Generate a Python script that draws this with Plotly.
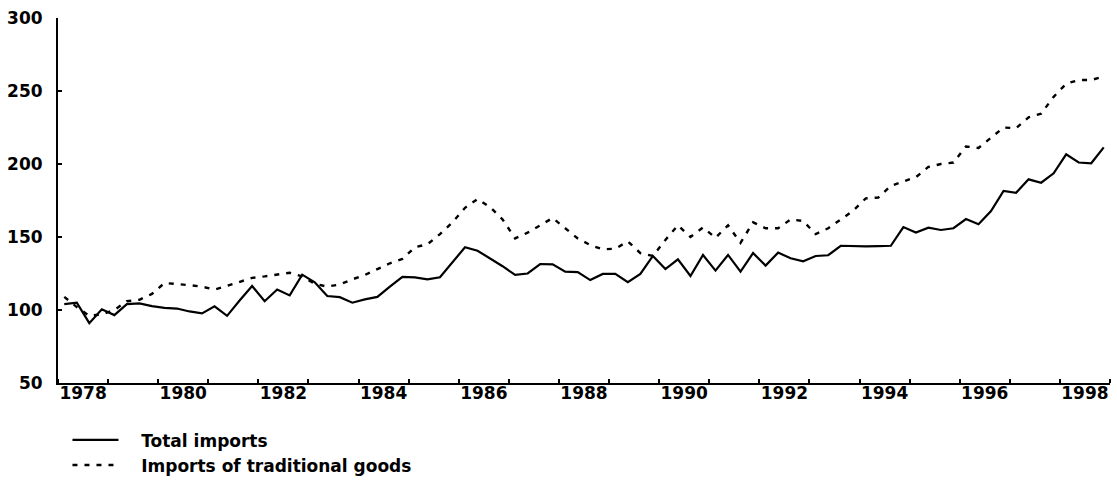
import plotly.graph_objects as go

years = list(range(1978, 1999))
quarters = [1, 2, 3, 4]

total_imports = [
    104, 105, 91, 100.5, 96.5, 104, 104.5, 102.7, 101.5, 101, 99, 97.7,
    102.5, 96, 106.5, 116.4, 106, 114, 110, 124.2, 119, 109.6, 108.8, 105,
    107.3, 109, 116, 122.7, 122.4, 121, 122.4, 132.7, 143, 140.6, 135.4, 130,
    124, 125, 131.5, 131.3, 126.3, 126, 120.5, 124.7, 124.7, 119, 124.7, 137,
    128, 134.7, 123.3, 137.7, 127, 137.7, 126.3, 139, 130.4, 139.3, 135.4, 133.4,
    137, 137.5, 144, 143.6, 143.6, 143.8, 144, 156.8, 153, 156.4, 154.8, 156,
    162.3, 158.7, 167.8, 181.5, 180.3, 189.5, 187.2, 193.6, 206.6, 201, 200.5, 211.4,
]

traditional_goods = [
    109, 102, 96, 97, 100, 106, 107, 111, 118.5, 118, 117, 116,
    114, 116.5, 119.5, 122, 123, 124, 125.5, 123, 118, 116, 117.5, 121,
    124, 128, 132, 135, 143, 145, 152, 160, 170, 176, 170.5, 162,
    149, 153, 158, 163, 156, 149, 144.5, 141.5, 142, 147, 139, 137,
    148, 158, 150, 156.5, 149.5, 158, 146, 160, 156, 156, 162, 161,
    152, 156, 162, 168, 176.5, 177, 185, 188, 191, 198, 200, 201,
    212, 211, 218, 225, 224.5, 232, 234.5, 246, 255, 257.5, 257.5, 260,
]

label_years = list(range(1978, 1999, 2))
y_ticks = [50, 100, 150, 200, 250, 300]

x = [y + (q - 0.5) / 4 for y in years for q in quarters]

FONT = "DejaVu Sans"
WEIGHT = "bold"
NB = "\u00a0"

fig = go.Figure()
fig.add_trace(go.Scatter(
    x=x, y=total_imports, mode="lines", name=NB * 3 + "Total imports",
    line=dict(color="black", width=2.2),
))
fig.add_trace(go.Scatter(
    x=x, y=traditional_goods, mode="lines",
    name=NB * 3 + "Imports of traditional goods",
    line=dict(color="black", width=2.4, dash="5px,7px"),
))

fig.update_layout(
    width=1117, height=483,
    margin=dict(l=58, r=7, t=18, b=100, autoexpand=False),
    paper_bgcolor="white", plot_bgcolor="white",
    font=dict(family=FONT, size=17, color="black", weight=WEIGHT),
    showlegend=True,
    legend=dict(
        x=0.009, y=-0.108, xanchor="left", yanchor="top",
        font=dict(family=FONT, size=17, color="black", weight=WEIGHT),
        bgcolor="rgba(0,0,0,0)", tracegroupgap=0,
        itemwidth=46,
    ),
    xaxis=dict(
        range=[1978, 1999],
        tickmode="array",
        tickvals=[y + 0.5 for y in label_years],
        ticktext=[str(y) for y in label_years],
        ticks="",
        showgrid=False, zeroline=False,
        showline=True, linecolor="black", linewidth=2,
        tickfont=dict(family=FONT, size=17, color="black", weight=WEIGHT),
        ticklabelstandoff=-6,
        ticklabeloverflow="allow",
        minor=dict(tickmode="linear", tick0=1978, dtick=1, ticks="inside",
                   ticklen=4, tickcolor="black", tickwidth=1.5, showgrid=False),
    ),
    yaxis=dict(
        range=[50, 300],
        tickmode="array", tickvals=y_ticks,
        ticks="inside", ticklen=4, tickwidth=1.5, tickcolor="black",
        showgrid=False, zeroline=False,
        showline=True, linecolor="black", linewidth=2,
        tickfont=dict(family=FONT, size=17, color="black", weight=WEIGHT),
        ticklabelstandoff=10,
        ticklabeloverflow="allow",
    ),
)

fig.write_html(
    "out.html",
    config={"displayModeBar": False},
    post_script="document.body.style.margin='0';document.body.style.overflow='hidden';",
)
